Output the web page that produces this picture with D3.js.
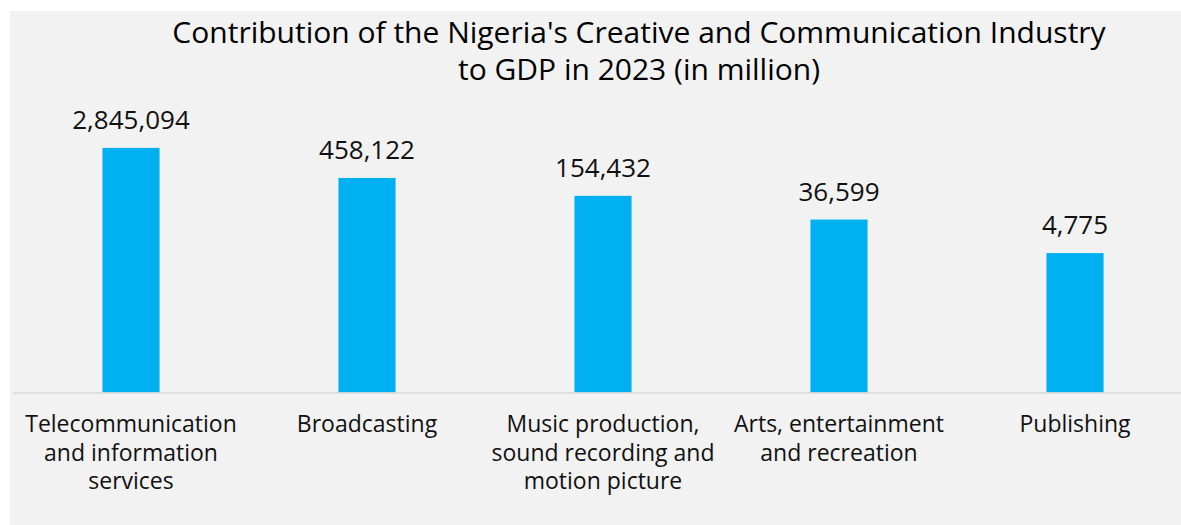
<!DOCTYPE html>
<html><head><meta charset="utf-8">
<script src="https://cdn.jsdelivr.net/npm/d3@7"></script>
<style>
body{margin:0;background:#fff;}
svg{display:block;font-family:"Open Sans", Lato, sans-serif;}
</style></head>
<body><svg id="c" width="1181" height="525"></svg>
<script>
const categories = [
  ["Telecommunication","and information","services"],
  ["Broadcasting"],
  ["Music production,","sound recording and","motion picture"],
  ["Arts, entertainment","and recreation"],
  ["Publishing"]
];
const categoryKeys = ["Telecom","Broadcasting","Music","Arts","Publishing"];
const values = [2845094, 458122, 154432, 36599, 4775];
const titleLines = ["Contribution of the Nigeria's Creative and Communication Industry","to GDP in 2023 (in million)"];

const svg = d3.select("#c");
svg.append("rect").attr("x",10).attr("y",11).attr("width",1171).attr("height",514).attr("fill","#f2f2f2");

const x = d3.scaleBand().domain(categoryKeys).range([13,1193]).paddingInner(0.758).paddingOuter(0.379);
const y = d3.scaleLog().domain([1,1e7]).range([392.5, 392.5-7*37.9]);

const t = svg.append("text").attr("text-anchor","middle").attr("fill","#000").style("font-size","30px");
titleLines.forEach((l,i)=>t.append("tspan").attr("x",639).attr("y",43+i*37).text(l));

svg.selectAll("rect.bar").data(values).join("rect").attr("class","bar")
  .attr("x",(d,i)=>x(categoryKeys[i])).attr("width",x.bandwidth())
  .attr("y",d=>y(d)).attr("height",d=>y(1)-y(d)).attr("fill","#00b0f0");

svg.append("line").attr("x1",13).attr("x2",1181).attr("y1",393).attr("y2",393).attr("stroke","#d9d9d9").attr("stroke-width",1.5);

const fmt = d3.format(",");
svg.selectAll("text.val").data(values).join("text").attr("class","val")
  .attr("x",(d,i)=>x(categoryKeys[i])+x.bandwidth()/2).attr("y",d=>y(d)-19)
  .attr("text-anchor","middle").attr("fill","#111").style("font-size","26px").text(d=>fmt(d));

const g = svg.selectAll("text.cat").data(categories).join("text").attr("class","cat")
  .attr("text-anchor","middle").attr("fill","#111").style("font-size","23px");
g.each(function(lines,i){
  const cx = x(categoryKeys[i])+x.bandwidth()/2;
  lines.forEach((l,j)=>d3.select(this).append("tspan").attr("x",cx).attr("y",432+j*28.5).text(l));
});
</script></body></html>
